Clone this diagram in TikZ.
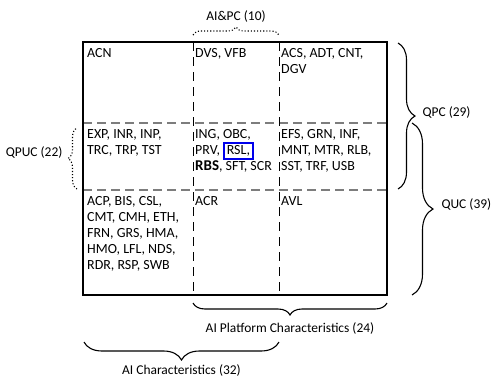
\documentclass[tikz,border=0pt]{standalone}
\usepackage{fontspec}
\setmainfont{Carlito}
\usetikzlibrary{decorations.pathreplacing,positioning,calc}

\begin{document}
\begin{tikzpicture}[x=1bp, y=-1bp, font=\fontsize{14}{16}\selectfont]
	% Colores
	\definecolor{gridgray}{RGB}{125,125,125}
	\definecolor{markblue}{RGB}{0,0,235}
	
	\tikzset{
		celltext/.style={anchor=north west, align=left, inner xsep=2bp, inner ysep=6.5bp},
		bracepath/.style={decorate, line width=1.1bp, decoration={brace, amplitude=#1}},
		bracelabel/.style={inner sep=0pt, font=\fontsize{13.5}{16}\selectfont}
	}
	
	\useasboundingbox (0,0) rectangle (492,377);
	
	% --- Esquinas de la tabla ---
	\coordinate (TL) at (83,42);
	\coordinate (BR) at (387,295);
	
	% --- Lineas de division ---
	\draw[gridgray, line width=1.1bp, dash pattern=on 9bp off 5bp] (83,123) -- (387,123);
	\draw[gridgray, line width=1.1bp, dash pattern=on 9bp off 5bp] (83,190) -- (387,190);
	\draw[black, line width=1bp, dash pattern=on 9bp off 6bp] (193,42) -- (193,295);
	\draw[black, line width=1bp, dash pattern=on 9bp off 6bp] (279,42) -- (279,295);
	
	% --- Marco ---
	\draw[line width=2bp] (TL) rectangle (BR);
	
	% --- Fila superior ---
	\node[celltext, xshift=2bp] (acn) at (83,42) {ACN};
	\node[celltext] (dvs) at (193,42) {DVS, VFB};
	\node[celltext] (acs) at (279,42) {ACS, ADT, CNT,\\DGV};
	
	% --- Fila central ---
	\setlength{\fboxsep}{2bp}
	\setlength{\fboxrule}{1.6bp}
	\node[celltext, xshift=2bp] (exp) at (83,123) {EXP, INR, INP,\\TRC, TRP, TST};
	\node[celltext] (ing) at (193,123) {ING, OBC,\\PRV, \fcolorbox{markblue}{white}{RSL,}\\{\fontsize{15}{16}\selectfont\bfseries RBS}, SFT, SCR};
	\node[celltext] (efs) at (279,123) {EFS, GRN, INF,\\MNT, MTR, RLB,\\SST, TRF, USB};
	
	% --- Fila inferior ---
	\node[celltext, xshift=2bp] (acp) at (83,190) {ACP, BIS, CSL,\\CMT, CMH, ETH,\\FRN, GRS, HMA,\\HMO, LFL, NDS,\\RDR, RSP, SWB};
	\node[celltext] (acr) at (193,190) {ACR};
	\node[celltext] (avl) at (279,190) {AVL};
	
	% --- Llaves ---
	\draw[bracepath=8bp, dotted] (193,35) -- (279,35)
		node[bracelabel, midway, above=12bp] (aipc) {AI\&PC (10)};
	\draw[bracepath=9bp, dotted] (77,189) -- (77,128)
		node[bracelabel, midway, left=14bp, yshift=6bp] (qpuc) {QPUC (22)};
	\draw[bracepath=17bp] (398,43) -- (398,189)
		node[bracelabel, midway, right=24bp, yshift=3bp] (qpc) {QPC (29)};
	\draw[bracepath=21bp] (412,123) -- (412,295)
		node[bracelabel, midway, right=29bp, yshift=4bp] (quc) {QUC (39)};
	\draw[bracepath=12bp] (387,303) -- (193,303)
		node[bracelabel, midway, below=19bp] (aiplat) {AI Platform Characteristics (24)};
	\draw[bracepath=18bp] (279,342) -- (84,342)
		node[bracelabel, midway, below=22bp] (aichar) {AI Characteristics (32)};
	
\end{tikzpicture}
\end{document}
